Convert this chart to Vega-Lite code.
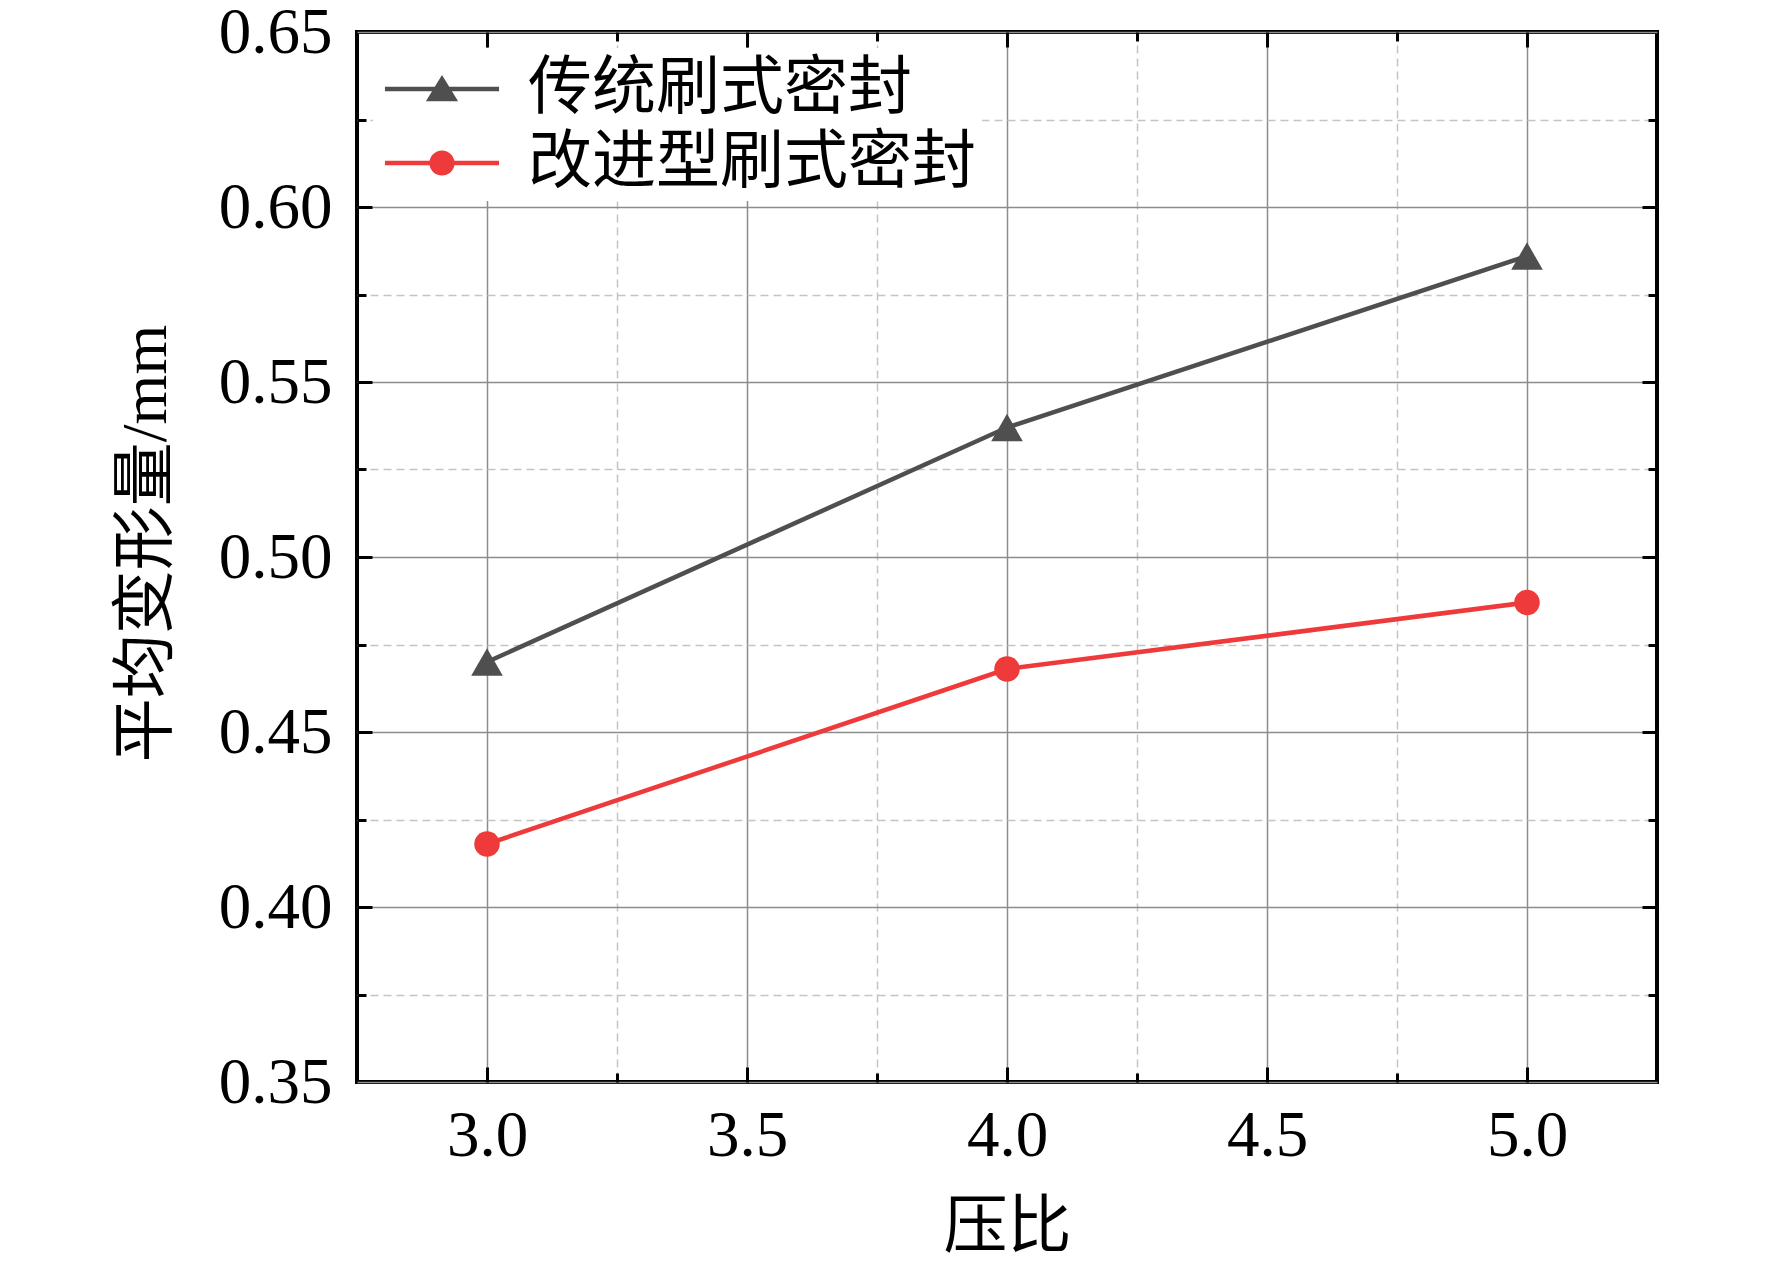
{
  "$schema": "https://vega.github.io/schema/vega-lite/v6.json",
  "width": 1300,
  "height": 1050,
  "autosize": "none",
  "padding": {"left": 357, "top": 32, "right": 115, "bottom": 184},
  "background": "white",
  "data": {
    "values": [
      {"ratio": 3, "value": 0.470, "series": "传统刷式密封"},
      {"ratio": 4, "value": 0.537, "series": "传统刷式密封"},
      {"ratio": 5, "value": 0.586, "series": "传统刷式密封"},
      {"ratio": 3, "value": 0.418, "series": "改进型刷式密封"},
      {"ratio": 4, "value": 0.468, "series": "改进型刷式密封"},
      {"ratio": 5, "value": 0.487, "series": "改进型刷式密封"}
    ]
  },
  "layer": [
    {
      "transform": [{"filter": "datum.series === '传统刷式密封'"}],
      "mark": {"type": "line", "strokeWidth": 4.5, "color": "#4f4f4f"},
      "encoding": {
        "x": {"field": "ratio", "type": "quantitative",
          "scale": {"domain": [2.75, 5.25], "nice": false, "zero": false},
          "axis": {"orient": "bottom", "values": [3, 3.5, 4, 4.5, 5], "format": ".1f",
            "ticks": false, "grid": true, "gridColor": "#8c8c8c", "gridWidth": 1.5,
            "labelPadding": 22, "title": "压比", "titleFont": "Noto Sans CJK SC", "titleFontSize": 64,
            "titleX": 650, "titleY": 145, "titleBaseline": "middle", "titleAlign": "center"}},
        "y": {"field": "value", "type": "quantitative",
          "scale": {"domain": [0.35, 0.65], "nice": false, "zero": false},
          "axis": {"orient": "left", "values": [0.35, 0.4, 0.45, 0.5, 0.55, 0.6, 0.65], "format": ".2f",
            "ticks": false, "grid": true, "gridColor": "#8c8c8c", "gridWidth": 1.5,
            "labelPadding": 25, "title": "平均变形量/mm", "titleFont": "Liberation Serif, Noto Sans CJK SC", "titleFontSize": 64,
            "titleX": -211, "titleY": 511, "titleAngle": -90, "titleBaseline": "middle", "titleAlign": "center"}}
      }
    },
    {
      "transform": [{"filter": "datum.series === '改进型刷式密封'"}],
      "mark": {"type": "line", "strokeWidth": 4.5, "color": "#ee3a3a"},
      "encoding": {
        "x": {"field": "ratio", "type": "quantitative",
          "scale": {"domain": [2.75, 5.25], "nice": false, "zero": false},
          "axis": {"orient": "bottom", "values": [3.25, 3.75, 4.25, 4.75], "ticks": false, "labels": false,
            "grid": true, "gridColor": "#c4c4c4", "gridWidth": 1.5, "gridDash": [8, 5], "title": null}},
        "y": {"field": "value", "type": "quantitative",
          "scale": {"domain": [0.35, 0.65], "nice": false, "zero": false},
          "axis": {"orient": "left", "values": [0.375, 0.425, 0.475, 0.525, 0.575, 0.625], "ticks": false, "labels": false,
            "grid": true, "gridColor": "#c4c4c4", "gridWidth": 1.5, "gridDash": [8, 5], "title": null}}
      }
    },
    {
      "transform": [{"filter": "datum.series === '传统刷式密封'"}],
      "mark": {"type": "point", "shape": "triangle-up", "filled": true, "size": 1000, "color": "#4f4f4f", "opacity": 1},
      "encoding": {
        "x": {"field": "ratio", "type": "quantitative",
          "scale": {"domain": [2.75, 5.25], "nice": false, "zero": false},
          "axis": {"orient": "bottom", "values": [3, 3.5, 4, 4.5, 5], "offset": -15, "tickSize": 15, "tickWidth": 3,
            "tickColor": "black", "labels": false, "grid": false, "title": null}},
        "y": {"field": "value", "type": "quantitative",
          "scale": {"domain": [0.35, 0.65], "nice": false, "zero": false},
          "axis": {"orient": "left", "values": [0.4, 0.45, 0.5, 0.55, 0.6], "offset": -15, "tickSize": 15, "tickWidth": 3,
            "tickColor": "black", "labels": false, "grid": false, "title": null}}
      }
    },
    {
      "transform": [{"filter": "datum.series === '改进型刷式密封'"}],
      "mark": {"type": "point", "shape": "circle", "filled": true, "size": 650, "color": "#ee3a3a", "opacity": 1},
      "encoding": {
        "x": {"field": "ratio", "type": "quantitative",
          "scale": {"domain": [2.75, 5.25], "nice": false, "zero": false},
          "axis": {"orient": "bottom", "values": [3.25, 3.75, 4.25, 4.75], "offset": -9, "tickSize": 9, "tickWidth": 3,
            "tickColor": "black", "labels": false, "grid": false, "title": null}},
        "y": {"field": "value", "type": "quantitative",
          "scale": {"domain": [0.35, 0.65], "nice": false, "zero": false},
          "axis": {"orient": "left", "values": [0.375, 0.425, 0.475, 0.525, 0.575, 0.625], "offset": -9, "tickSize": 9, "tickWidth": 3,
            "tickColor": "black", "labels": false, "grid": false, "title": null}}
      }
    },
    {
      "mark": {"type": "point", "opacity": 0},
      "encoding": {
        "x": {"field": "ratio", "type": "quantitative",
          "scale": {"domain": [2.75, 5.25], "nice": false, "zero": false},
          "axis": {"orient": "top", "values": [3, 3.5, 4, 4.5, 5], "offset": -15, "tickSize": 15, "tickWidth": 3,
            "tickColor": "black", "labels": false, "grid": false, "title": null}},
        "y": {"field": "value", "type": "quantitative",
          "scale": {"domain": [0.35, 0.65], "nice": false, "zero": false},
          "axis": {"orient": "right", "values": [0.4, 0.45, 0.5, 0.55, 0.6], "offset": -15, "tickSize": 15, "tickWidth": 3,
            "tickColor": "black", "labels": false, "grid": false, "title": null}}
      }
    },
    {
      "mark": {"type": "point", "opacity": 0},
      "encoding": {
        "x": {"field": "ratio", "type": "quantitative",
          "scale": {"domain": [2.75, 5.25], "nice": false, "zero": false},
          "axis": {"orient": "top", "values": [3.25, 3.75, 4.25, 4.75], "offset": -9, "tickSize": 9, "tickWidth": 3,
            "tickColor": "black", "labels": false, "grid": false, "title": null}},
        "y": {"field": "value", "type": "quantitative",
          "scale": {"domain": [0.35, 0.65], "nice": false, "zero": false},
          "axis": {"orient": "right", "values": [0.375, 0.425, 0.475, 0.525, 0.575, 0.625], "offset": -9, "tickSize": 9, "tickWidth": 3,
            "tickColor": "black", "labels": false, "grid": false, "title": null}}
      }
    },
    {
      "transform": [{"filter": "datum.ratio > 100"}],
      "mark": {"type": "point", "filled": true, "opacity": 1},
      "encoding": {
        "x": {"field": "ratio", "type": "quantitative",
          "scale": {"domain": [2.75, 5.25], "nice": false, "zero": false}, "axis": null},
        "y": {"field": "value", "type": "quantitative",
          "scale": {"domain": [0.35, 0.65], "nice": false, "zero": false}, "axis": null},
        "color": {"field": "series", "type": "nominal",
          "scale": {"domain": ["传统刷式密封", "改进型刷式密封"], "range": ["#4f4f4f", "#ee3a3a"]},
          "legend": {"title": null}},
        "shape": {"field": "series", "type": "nominal",
          "scale": {"domain": ["传统刷式密封", "改进型刷式密封"],
            "range": ["M-0.83,-0.065H2.43V0.065H-0.83ZM0.8,-0.4L1.26,0.35L0.34,0.35Z",
                      "M-0.83,-0.065H2.43V0.065H-0.83ZM0.44,0A0.36,0.36 0 1,1 1.16,0A0.36,0.36 0 1,1 0.44,0Z"]},
          "legend": {"title": null}}
      }
    }
  ],
  "resolve": {"axis": {"x": "independent", "y": "independent"}},
  "config": {
    "font": "Liberation Serif",
    "view": {"stroke": "black", "strokeWidth": 4},
    "axis": {
      "domain": false,
      "labelFont": "Liberation Serif",
      "labelFontSize": 65,
      "labelColor": "black",
      "titleColor": "black",
      "titleFontWeight": "normal",
      "labelOverlap": false,
      "labelFlush": false,
      "labelBound": false
    },
    "legend": {
      "orient": "top-left",
      "offset": 16,
      "padding": 6,
      "rowPadding": 7,
      "fillColor": "white",
      "symbolSize": 4900,
      "symbolStrokeWidth": 0,
      "symbolOpacity": 1,
      "labelOffset": 79,
      "labelFont": "Noto Sans CJK SC",
      "labelFontSize": 64,
      "labelColor": "black",
      "labelLimit": 2000
    }
  }
}
